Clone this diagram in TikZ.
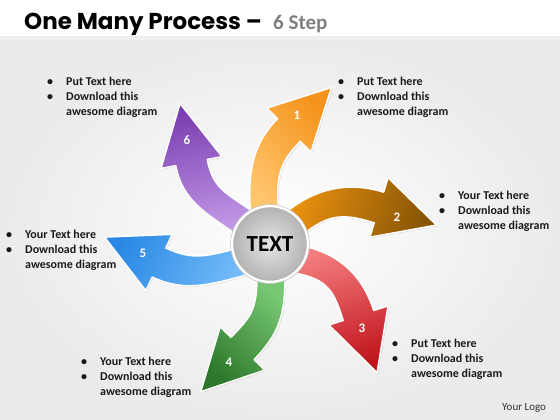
\documentclass[tikz,border=0pt]{standalone}
\usepackage{fontspec}
\setmainfont{Carlito}
\newfontfamily\titlefont{Poppins}
\usetikzlibrary{calc,shadows}
\definecolor{orA}{HTML}{FFC56E}\definecolor{orB}{HTML}{F5941C}
\definecolor{brA}{HTML}{EB920F}\definecolor{brB}{HTML}{875505}
\definecolor{rdA}{HTML}{F47C7C}\definecolor{rdB}{HTML}{C0141C}
\definecolor{grA}{HTML}{78C873}\definecolor{grB}{HTML}{2B772B}
\definecolor{blA}{HTML}{72BBF8}\definecolor{blB}{HTML}{2A88E4}
\definecolor{puA}{HTML}{C39AE8}\definecolor{puB}{HTML}{7A3DB0}
\definecolor{txt}{HTML}{1A1A1A}
\tikzset{
  arrowbody/.style={draw=white, line width=1.4pt, line join=round,
    drop shadow={opacity=0.18, shadow xshift=1.2pt, shadow yshift=-1.2pt}},
  steplabel/.style={text=white, font=\bfseries\fontsize{13}{13}\selectfont, inner sep=0pt},
  bulletblock/.style={anchor=north west, inner sep=0pt, text=txt,
    font=\bfseries\fontsize{12}{15}\selectfont},
  hubstyle/.style={circle, minimum size=76pt, inner sep=0pt, inner color=gray!20,
    outer color=gray!60, draw=white, line width=2.5pt,
    font=\bfseries\fontsize{23}{23}\selectfont, text=black}
}
% #1 base position angle, #2 base heading, #3 neck point, #4 head heading,
% #5 base colour, #6 head colour, #7 label position, #8 label text
\newcommand\swirlarrow[8]{%
  \pgfmathsetmacro\sP{-(#1)}%
  \pgfmathsetmacro\sA{-(#2)}%
  \pgfmathsetmacro\sB{-(#4)}%
  \pgfmathsetmacro\sBl{-(#4)-90}%
  \pgfmathsetmacro\sBr{-(#4)+90}%
  \pgfmathsetmacro\sAl{-(#2)-90}%
  \pgfmathsetmacro\sAr{-(#2)+90}%
  \pgfmathsetmacro\sBback{-(#4)+180}%
  \pgfmathsetmacro\shang{#4-90}%
  \coordinate (P) at ($(C)+(\sP:30)$);
  \coordinate (M) at (#3);
  \path[arrowbody, top color=#6, bottom color=#5, shading angle=\shang]
    ($(P)+(\sAl:14)$) .. controls +(\sA:42) and +(\sBback:36) .. ($(M)+(\sBl:16)$)
    -- ($(M)+(\sBl:31)$) -- ($(M)+(\sB:60)$) -- ($(M)+(\sBr:31)$) -- ($(M)+(\sBr:16)$)
    .. controls +(\sBback:30) and +(\sA:36) .. ($(P)+(\sAr:14)$) -- cycle;
  \node[steplabel] (lab#8) at (#7) {#8};
}
\begin{document}
\begin{tikzpicture}[x=1pt,y=-1pt]
\useasboundingbox (0,0) rectangle (560,420);
\fill[white] (0,0) rectangle (560,37);
\shade[inner color=white, outer color=black!8] (0,37) rectangle (560,420);
\fill[black!6] (0,37) rectangle (560,40);
\coordinate (C) at (270,244);

\node[anchor=base west, inner sep=0pt, font=\titlefont\bfseries\fontsize{23}{23}\selectfont, text=black] (title) at (24,30) {One Many Process –};
\node[anchor=base west, inner sep=0pt, font=\bfseries\fontsize{21}{21}\selectfont, text=gray] (subtitle) at (273,30) {6 Step};

\swirlarrow{100}{95}{289,130}{45}{orA}{orB}{297,115}{1}
\swirlarrow{40}{40}{379,207.5}{-17}{brA}{brB}{397,217}{2}
\swirlarrow{-30}{-10}{358.5,315.5}{-72}{rdA}{rdB}{362,328}{3}
\swirlarrow{-88}{-90}{242.5,348.5}{-134}{grA}{grB}{229,362}{4}
\swirlarrow{214}{195}{159,262.5}{155}{blA}{blB}{143,253}{5}
\swirlarrow{140}{145}{191.5,162.5}{101}{puA}{puB}{187,140}{6}

\node[hubstyle, drop shadow={opacity=0.2, shadow xshift=1pt, shadow yshift=-1pt}] (hub) at (C) {TEXT};
\draw[gray!45, line width=0.6pt] (hub.center) circle[radius=39.5];

\node[bulletblock] (tA) at (47,74.5) {\begin{tabular}{@{}p{19pt}@{}l@{}}\textbullet & Put Text here\\ \textbullet & Download this\\ & awesome diagram\end{tabular}};
\node[bulletblock] (tB) at (338,74.5) {\begin{tabular}{@{}p{19pt}@{}l@{}}\textbullet & Put Text here\\ \textbullet & Download this\\ & awesome diagram\end{tabular}};
\node[bulletblock] (tC) at (439,188.5) {\begin{tabular}{@{}p{19pt}@{}l@{}}\textbullet & Your Text here\\ \textbullet & Download this\\ & awesome diagram\end{tabular}};
\node[bulletblock] (tD) at (392,336.5) {\begin{tabular}{@{}p{19pt}@{}l@{}}\textbullet & Put Text here\\ \textbullet & Download this\\ & awesome diagram\end{tabular}};
\node[bulletblock] (tE) at (6,227.5) {\begin{tabular}{@{}p{19pt}@{}l@{}}\textbullet & Your Text here\\ \textbullet & Download this\\ & awesome diagram\end{tabular}};
\node[bulletblock] (tF) at (81,354.5) {\begin{tabular}{@{}p{19pt}@{}l@{}}\textbullet & Your Text here\\ \textbullet & Download this\\ & awesome diagram\end{tabular}};

\node[anchor=west, inner sep=0pt, font=\fontsize{11}{11}\selectfont, text=black!80] (logo) at (502,408) {Your Logo};
\end{tikzpicture}
\end{document}
